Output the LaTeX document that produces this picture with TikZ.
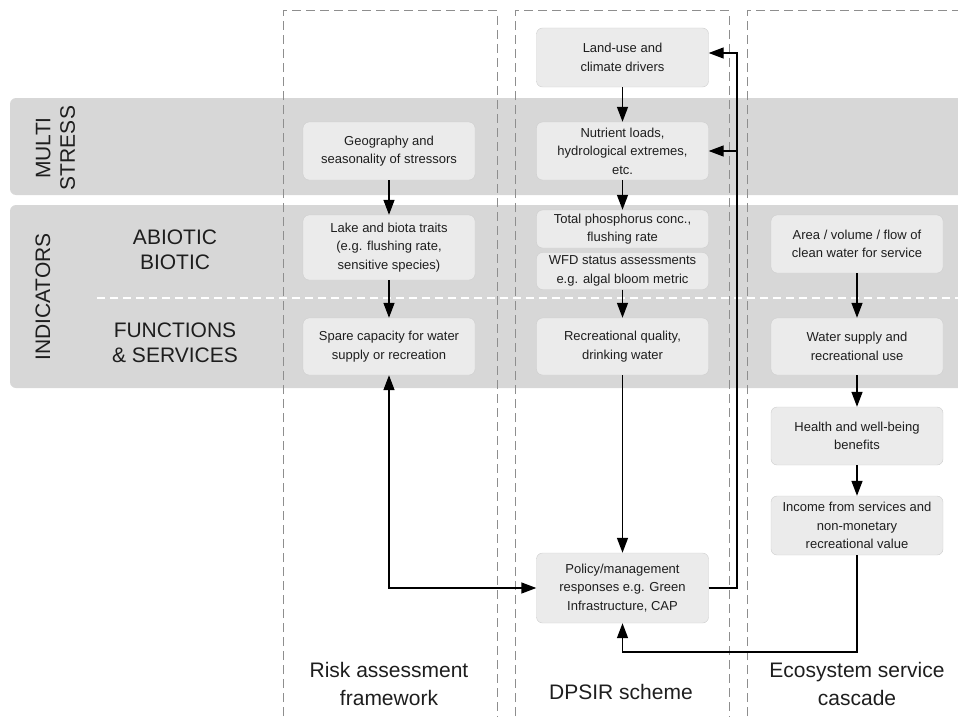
\documentclass[tikz,border=0pt]{standalone}
\usepackage{fontspec}
\setmainfont{Liberation Sans}
\usetikzlibrary{arrows.meta}
\definecolor{bandgray}{HTML}{D7D7D7}
\definecolor{boxfill}{HTML}{EBEBEB}
\definecolor{boxline}{HTML}{CDCDCD}
\definecolor{dashgray}{HTML}{8E8E8E}
\definecolor{textgray}{HTML}{1E1E1E}

\begin{document}
\begin{tikzpicture}
[x=1pt,y=-1pt,
  boxdecorate/.style={shape=rectangle,rounded corners=6pt,draw=boxline,fill=boxfill,
    minimum width=172pt,inner sep=1pt,align=center,text=textgray,
    font=\fontsize{13}{18.5}\selectfont},
  banddecorate/.style={fill=bandgray,rounded corners=6pt},
  columndecorate/.style={draw=dashgray,line width=1pt,dash pattern=on 9pt off 5pt},
  labeldecorate/.style={align=center,text=textgray,font=\fontsize{21}{24.5}\selectfont},
  titledecorate/.style={align=center,text=textgray,font=\fontsize{21}{28}\selectfont},
  arrowdecorate/.style={-{Triangle[length=15pt,width=11pt]},line width=1.4pt}]
%%
\clip (0,0) rectangle (958,717);
%% Bands and columns
\fill[banddecorate] (10,98) rectangle (975,195);
\fill[banddecorate] (10,205) rectangle (975,388);
\draw[white,line width=1.5pt,dash pattern=on 8pt off 5pt] (97,298) -- (958,298);
\foreach \xa/\xb in {283/497, 515/729, 747/975}
{
  \draw[columndecorate] (\xa,730) -- (\xa,11) -- (\xb,11) -- (\xb,730);
}
%% Row labels
\node (multi) at (55.5,148) [labeldecorate,rotate=90] {MULTI\\STRESS};
\node (indicators) at (43,297) [labeldecorate,rotate=90] {INDICATORS};
\node (abiotic) at (175,250) [labeldecorate] {ABIOTIC\\BIOTIC};
\node (functions) at (175,343) [labeldecorate] {FUNCTIONS\\\& SERVICES};
%% Boxes
\foreach \nodename/\x/\y/\h/\txt in {
    geo/389/151/58/{Geography and\\seasonality of stressors},
    lake/389/247.5/65/{Lake and biota traits\\(e.g. flushing rate,\\sensitive species)},
    spare/389/346.5/57/{Spare capacity for water\\supply or recreation},
    land/622.5/57.5/59/{Land-use and\\climate drivers},
    nutr/622.5/151/58/{Nutrient loads,\\hydrological extremes,\\etc.},
    tp/622.5/229/38/{Total phosphorus conc.,\\flushing rate},
    wfd/622.5/271/37/{WFD status assessments\\e.g. algal bloom metric},
    recr/622.5/346.5/57/{Recreational quality,\\drinking water},
    policy/622.5/588/70/{Policy/management\\responses e.g. Green\\Infrastructure, CAP},
    area/857/244/58/{Area / volume / flow of\\clean water for service},
    water/857/346.5/57/{Water supply and\\recreational use},
    health/857/436/58/{Health and well-being\\benefits},
    income/857/525.5/59/{Income from services and\\non-monetary\\recreational value}}
{
  \node (\nodename) at (\x,\y) [boxdecorate,minimum height=\h pt] {\txt};
}
%% Straight arrows
\path
\foreach \startnode/\endnode in {land/nutr, nutr/tp, wfd/recr, recr/policy,
    geo/lake, lake/spare, area/water, water/health, health/income} {
  (\startnode) edge[arrowdecorate] (\endnode)
};
%% Feedback loops
\coordinate (feedtop) at (737,53);
\coordinate (cashloop) at (857,652);
\draw[arrowdecorate] (policy.east) -| (feedtop) -- (feedtop -| land.east);
\draw[arrowdecorate] (nutr.east -| feedtop) -- (nutr.east);
\draw[arrowdecorate] (income.south) -- (cashloop) -| (policy.south);
\draw[arrowdecorate,{Triangle[length=15pt,width=11pt]}-{Triangle[length=15pt,width=11pt]}]
  (spare.south) |- (policy.west);
%% Column titles
\node (risktitle) at (389,684) [titledecorate] {Risk assessment\\framework};
\node (dpsirtitle) at (621,692) [titledecorate] {DPSIR scheme};
\node (ecotitle) at (857,684) [titledecorate] {Ecosystem service\\cascade};
\end{tikzpicture}
\end{document}
